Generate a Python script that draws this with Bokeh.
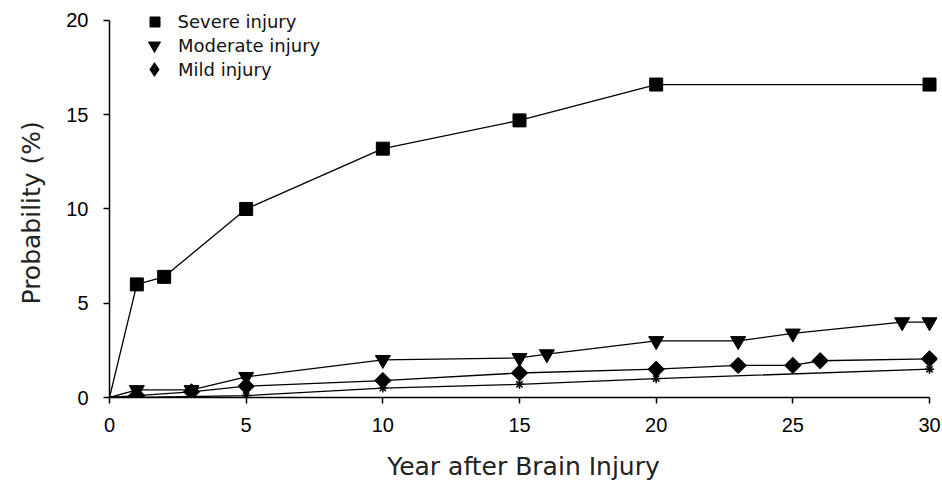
import math
from bokeh.plotting import figure
from bokeh.models import Range1d, Legend, LegendItem, Title
from bokeh.embed import file_html
from bokeh.resources import INLINE

# ---- data ----
severe_years = [0, 1, 2, 5, 10, 15, 20, 30]
severe_prob = [0, 6.0, 6.4, 10.0, 13.2, 14.7, 16.6, 16.6]

moderate_years = [0, 1, 3, 5, 10, 15, 16, 20, 23, 25, 29, 30]
moderate_prob = [0, 0.4, 0.4, 1.1, 2.0, 2.1, 2.3, 3.0, 3.0, 3.4, 4.0, 4.0]

mild_years = [0, 1, 3, 5, 10, 15, 20, 23, 25, 26, 30]
mild_prob = [0, 0.1, 0.3, 0.6, 0.9, 1.3, 1.5, 1.7, 1.7, 1.95, 2.05]

other_years = [0, 1, 5, 10, 15, 20, 30]
other_prob = [0, 0.0, 0.1, 0.5, 0.7, 1.0, 1.5]

x_ticks = [0, 5, 10, 15, 20, 25, 30]
y_ticks = [0, 5, 10, 15, 20]

W, H = 942, 483
LEFT, TOP, RIGHT, BOTTOM = 108, 5, 5, 85
# axis spans 0..30 over 821 px and 0..20 over 378 px; frame extends a bit
# beyond so that the end markers and the legend are not clipped
x_end = 30 * (W - LEFT - RIGHT) / 821.0
y_end = 20 * (H - TOP - BOTTOM) / 378.0

p = figure(width=W, height=H, output_backend="svg", toolbar_location=None,
           x_range=Range1d(0, x_end), y_range=Range1d(0, y_end),
           min_border_left=LEFT, min_border_right=RIGHT, min_border_top=TOP,
           min_border_bottom=BOTTOM)
p.outline_line_color = None
p.xgrid.grid_line_color = None
p.ygrid.grid_line_color = None
p.background_fill_color = "white"

for ax in (p.xaxis[0], p.yaxis[0]):
    ax.axis_line_color = "black"
    ax.axis_line_width = 1.5
    ax.major_tick_line_color = "black"
    ax.major_tick_line_width = 1.5
    ax.major_tick_in = 0
    ax.major_tick_out = 6
    ax.minor_tick_line_color = None
    ax.major_label_text_font = "Liberation Sans"
    ax.major_label_text_font_size = "20px"
    ax.major_label_text_color = "black"
    ax.axis_label_text_font = "DejaVu Sans"
    ax.axis_label_text_font_size = "25px"
    ax.axis_label_text_font_style = "normal"
    ax.axis_label_text_color = "#222222"

p.xaxis.ticker = x_ticks
p.yaxis.ticker = y_ticks
p.xaxis.bounds = (0, 30)
p.yaxis.bounds = (0, 20)
p.xaxis.major_label_standoff = 14
p.yaxis.major_label_standoff = 15
p.xaxis.axis_label = "Year after Brain Injury"
p.xaxis.axis_label_standoff = 17

ytitle = Title(text="Probability  (%)", align="left", offset=93,
               vertical_align="top", standoff=32,
               text_font="DejaVu Sans", text_font_size="25px",
               text_font_style="normal", text_color="#222222")
p.add_layout(ytitle, "left")

lw = 1.3
p.line(severe_years, severe_prob, color="black", line_width=lw)
p.line(moderate_years, moderate_prob, color="black", line_width=lw)
p.line(mild_years, mild_prob, color="black", line_width=lw)
p.line(other_years, other_prob, color="black", line_width=lw)

r_sev = p.scatter(severe_years[1:], severe_prob[1:], marker="square", size=13,
                  color="black")
r_mod = p.scatter(moderate_years[1:], moderate_prob[1:], marker="inverted_triangle",
                  size=15, color="black")
p.scatter(mild_years[1:], mild_prob[1:], marker="square", angle=math.pi / 4,
          size=11.5, color="black")
p.scatter(other_years[1:], other_prob[1:], marker="asterisk", size=9,
          line_color="black", line_width=1.5)
# zero-size copy of the mild series, used only for its diamond legend key
r_mild_key = p.scatter(mild_years[1:], mild_prob[1:], marker="diamond", size=0,
                       fill_color="black", line_color=None)


def make_legend(label, renderer, box, loc, standoff):
    lg = Legend(items=[LegendItem(label=label, renderers=[renderer])], location=loc)
    lg.border_line_color = None
    lg.background_fill_alpha = 0
    lg.padding = 0
    lg.margin = 0
    lg.spacing = 0
    lg.glyph_width = box
    lg.glyph_height = box
    lg.label_height = box
    lg.label_standoff = standoff
    lg.label_text_font = "DejaVu Sans"
    lg.label_text_font_size = "18px"
    lg.label_text_color = "#111111"
    p.add_layout(lg)


make_legend("Severe injury", r_sev, 25, (32.5, 363.5), 11)
make_legend("Moderate injury", r_mod, 30, (30, 337), 9)
make_legend("Mild injury", r_mild_key, 38, (26, 309), 5)

open("out.html", "w").write(file_html(p, INLINE))
